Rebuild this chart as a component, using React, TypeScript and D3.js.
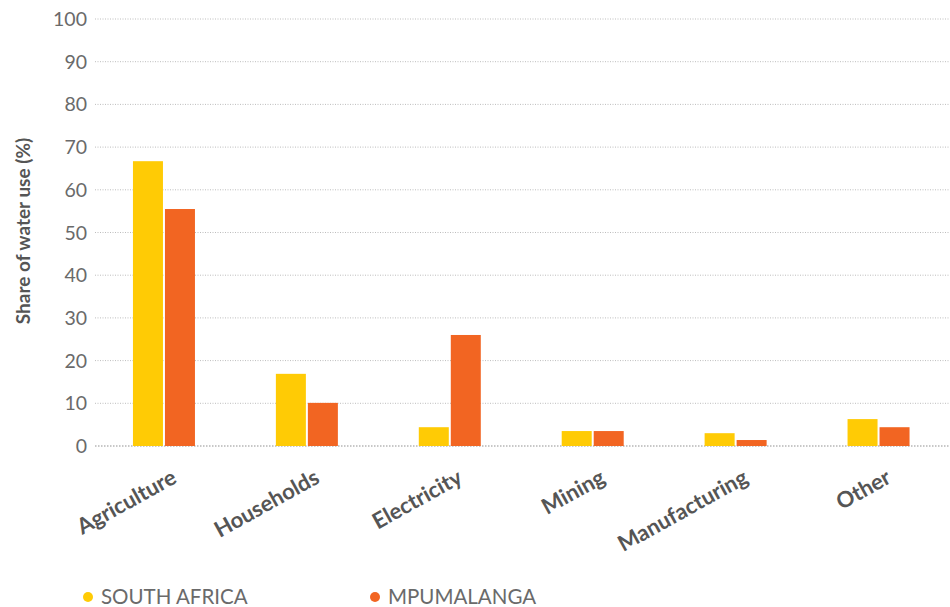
import React from "react";
import * as d3 from "d3";

const categories = ["Agriculture", "Households", "Electricity", "Mining", "Manufacturing", "Other"];
const seriesNames = ["SOUTH AFRICA", "MPUMALANGA"];
const southAfrica = [66.7, 16.9, 4.4, 3.5, 3.0, 6.3];
const mpumalanga = [55.5, 10.1, 26.0, 3.5, 1.4, 4.4];
const yTicks = [0, 10, 20, 30, 40, 50, 60, 70, 80, 90, 100];
const colors = ["#FFCB05", "#F26522"];

const W = 950;
const H = 607;

export default function App() {
  const x = d3.scaleBand<string>().domain(categories).range([92.5, 950]).padding(0);
  const y = d3.scaleLinear().domain([0, 100]).range([446, 19]);
  const barW = 30;
  const gap = 2;
  const series = [southAfrica, mpumalanga];
  const font = "Lato, 'Open Sans', sans-serif";

  return (
    <svg width={W} height={H} style={{ position: "absolute", left: 0, top: 0, background: "#fff" }}>
      {yTicks.map((t) => (
        <g key={t}>
          <line x1={95} x2={950} y1={y(t)} y2={y(t)} stroke={t === 0 ? "#c8c8c8" : "#bdbdbd"} strokeWidth={t === 0 ? 2 : 1} strokeDasharray={t === 0 ? "1.5,1.5" : "1,1.5"} />
          <text x={87} y={y(t)} dy="0.36em" textAnchor="end" fontFamily={font} fontSize={19.5} fill="#6a6a6a" fontWeight={400}>{t}</text>
        </g>
      ))}
      {categories.map((c, i) => {
        const cx = (x(c) as number) + x.bandwidth() / 2;
        return (
          <g key={c}>
            {series.map((s, j) => {
              const bx = j === 0 ? cx - gap / 2 - barW : cx + gap / 2;
              return <rect key={j} x={bx} y={y(s[i])} width={barW} height={y(0) - y(s[i])} fill={colors[j]} />;
            })}
            <text transform={`translate(${cx + 14},${482}) rotate(-29)`} textAnchor="end" fontFamily={font} fontSize={22} fontWeight={700} fill="#555">{c}</text>
          </g>
        );
      })}
      <text transform={`translate(30,231) rotate(-90)`} textAnchor="middle" fontFamily={font} fontSize={19} fontWeight={700} fill="#555">Share of water use (%)</text>
      {seriesNames.map((n, j) => {
        const lx = j === 0 ? 88 : 375;
        return (
          <g key={n}>
            <circle cx={lx} cy={597} r={5} fill={colors[j]} />
            <text x={lx + 13} y={597} dy="0.36em" fontFamily={font} fontSize={20.5} fill="#6a6a6a" fontWeight={400}>{n}</text>
          </g>
        );
      })}
    </svg>
  );
}
